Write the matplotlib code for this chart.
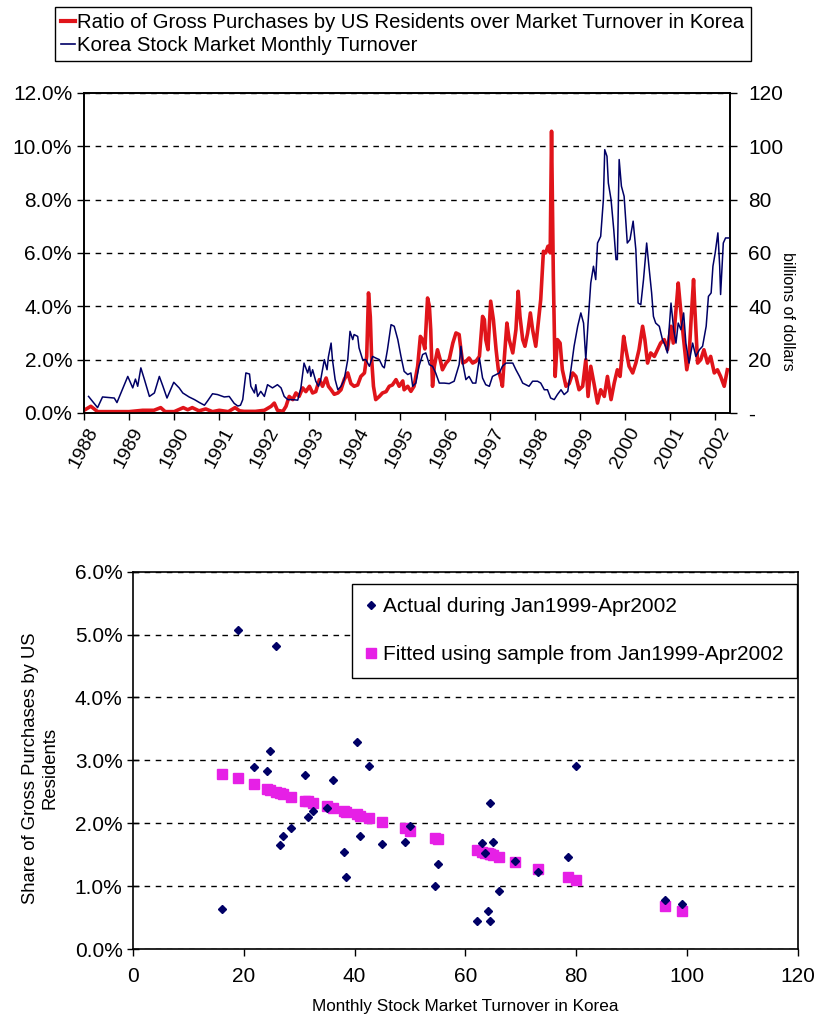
import numpy as np
import matplotlib.pyplot as plt
from matplotlib.ticker import FuncFormatter
from matplotlib.lines import Line2D

plt.rcParams['font.family'] = ['Liberation Sans', 'DejaVu Sans']
plt.rcParams['font.size'] = 15

# --- datos: serie mensual (fecha en anos decimales) ---
# razon compras brutas residentes EEUU / volumen mercado (%)
ratio_t = [1988.00, 1988.15, 1988.30, 1988.50, 1988.80, 1989.00, 1989.30, 1989.55, 1989.70, 1989.80,
           1990.00, 1990.20, 1990.30, 1990.40, 1990.55, 1990.70, 1990.85, 1991.00, 1991.20, 1991.35,
           1991.45, 1991.55, 1991.80, 1992.00, 1992.15, 1992.22, 1992.29, 1992.41, 1992.48, 1992.55,
           1992.63, 1992.70, 1992.77, 1992.85, 1992.92, 1993.00, 1993.07, 1993.14, 1993.22, 1993.29,
           1993.37, 1993.42, 1993.48, 1993.55, 1993.63, 1993.70, 1993.77, 1993.85, 1993.92, 1993.99,
           1994.07, 1994.14, 1994.22, 1994.27, 1994.31, 1994.35, 1994.38, 1994.42, 1994.47, 1994.55,
           1994.62, 1994.70, 1994.77, 1994.84, 1994.92, 1994.99, 1995.07, 1995.10, 1995.18, 1995.25,
           1995.32, 1995.40, 1995.46, 1995.51, 1995.56, 1995.62, 1995.66, 1995.69, 1995.73, 1995.77,
           1995.84, 1995.90, 1995.95, 1996.03, 1996.10, 1996.18, 1996.25, 1996.32, 1996.36, 1996.40,
           1996.47, 1996.54, 1996.62, 1996.69, 1996.77, 1996.84, 1996.88, 1996.91, 1996.96, 1997.02,
           1997.08, 1997.14, 1997.19, 1997.25, 1997.28, 1997.32, 1997.38, 1997.43, 1997.51, 1997.58,
           1997.63, 1997.67, 1997.73, 1997.78, 1997.84, 1997.90, 1997.95, 1998.02, 1998.13, 1998.19,
           1998.24, 1998.29, 1998.34, 1998.37, 1998.41, 1998.45, 1998.50, 1998.56, 1998.61, 1998.69,
           1998.76, 1998.84, 1998.91, 1998.98, 1999.06, 1999.13, 1999.18, 1999.24, 1999.31, 1999.39,
           1999.46, 1999.54, 1999.61, 1999.69, 1999.76, 1999.83, 1999.89, 1999.97, 2000.02, 2000.09,
           2000.17, 2000.24, 2000.31, 2000.39, 2000.44, 2000.50, 2000.57, 2000.65, 2000.72, 2000.79,
           2000.87, 2000.94, 2001.02, 2001.07, 2001.13, 2001.18, 2001.22, 2001.27, 2001.33, 2001.37,
           2001.42, 2001.47, 2001.52, 2001.55, 2001.61, 2001.68, 2001.75, 2001.83, 2001.90, 2001.98,
           2002.05, 2002.12, 2002.20, 2002.27]
ratio_v = [0.10, 0.25, 0.05, 0.05, 0.05, 0.05, 0.10, 0.10, 0.20, 0.05,
           0.05, 0.20, 0.12, 0.20, 0.08, 0.15, 0.05, 0.10, 0.05, 0.20,
           0.08, 0.06, 0.06, 0.10, 0.25, 0.37, 0.10, 0.06, 0.25, 0.62,
           0.50, 0.75, 0.62, 0.94, 0.80, 1.00, 0.75, 0.80, 1.25, 1.00,
           1.31, 1.00, 0.87, 0.70, 0.75, 0.87, 1.25, 1.50, 1.10, 1.00,
           1.05, 1.37, 1.50, 2.12, 4.50, 3.60, 2.00, 1.00, 0.50, 0.62,
           0.75, 0.80, 1.00, 1.05, 1.25, 1.00, 1.20, 0.87, 1.00, 0.81,
           1.00, 1.75, 2.87, 2.75, 2.40, 4.31, 4.00, 3.12, 1.00, 1.75,
           2.37, 2.00, 1.62, 1.87, 2.00, 2.62, 3.00, 2.94, 2.37, 1.87,
           1.93, 2.06, 1.87, 1.93, 2.12, 3.62, 3.50, 2.75, 2.37, 4.19,
           3.50, 2.37, 1.62, 1.25, 1.00, 2.00, 3.37, 2.75, 2.25, 3.12,
           4.56, 3.62, 2.75, 2.50, 3.00, 3.75, 3.12, 2.50, 4.25, 6.06,
           6.00, 6.25, 6.00, 10.56, 5.12, 1.37, 2.75, 2.62, 1.62, 1.00,
           1.10, 1.50, 1.37, 0.87, 1.00, 2.00, 0.62, 1.75, 1.12, 0.37,
           0.87, 0.62, 1.37, 0.50, 1.12, 1.62, 1.37, 2.87, 2.37, 1.75,
           1.50, 1.87, 2.37, 3.25, 2.75, 1.87, 2.25, 2.12, 2.37, 2.62,
           2.75, 2.37, 3.25, 2.62, 3.87, 4.87, 4.12, 3.25, 2.25, 1.62,
           2.12, 3.62, 5.00, 3.87, 1.87, 2.00, 2.37, 1.87, 2.12, 1.50,
           1.62, 1.37, 1.00, 1.62]

# volumen mensual del mercado de Corea (miles de millones USD)
turnover_t = [1988.10, 1988.30, 1988.41, 1988.67, 1988.73, 1988.97, 1989.08, 1989.14, 1989.19, 1989.26,
              1989.34, 1989.45, 1989.56, 1989.67, 1989.75, 1989.84, 1989.99, 1990.11, 1990.19, 1990.33,
              1990.45, 1990.56, 1990.67, 1990.74, 1990.85, 1990.96, 1991.11, 1991.22, 1991.33, 1991.41,
              1991.47, 1991.52, 1991.59, 1991.67, 1991.70, 1991.78, 1991.81, 1991.85, 1991.92, 1992.00,
              1992.07, 1992.18, 1992.29, 1992.37, 1992.44, 1992.52, 1992.63, 1992.74, 1992.81, 1992.88,
              1992.96, 1993.00, 1993.03, 1993.07, 1993.14, 1993.20, 1993.25, 1993.33, 1993.39, 1993.42,
              1993.48, 1993.51, 1993.57, 1993.63, 1993.70, 1993.77, 1993.85, 1993.90, 1993.96, 1993.99,
              1994.07, 1994.10, 1994.18, 1994.25, 1994.33, 1994.40, 1994.47, 1994.55, 1994.62, 1994.66,
              1994.73, 1994.81, 1994.88, 1994.96, 1995.03, 1995.10, 1995.18, 1995.25, 1995.29, 1995.36,
              1995.43, 1995.51, 1995.58, 1995.66, 1995.73, 1995.80, 1995.88, 1995.99, 1996.10, 1996.21,
              1996.32, 1996.36, 1996.40, 1996.47, 1996.54, 1996.62, 1996.69, 1996.77, 1996.84, 1996.91,
              1996.99, 1997.06, 1997.14, 1997.21, 1997.28, 1997.36, 1997.43, 1997.51, 1997.58, 1997.66,
              1997.73, 1997.80, 1997.87, 1997.95, 1998.06, 1998.13, 1998.21, 1998.28, 1998.35, 1998.43,
              1998.50, 1998.58, 1998.65, 1998.73, 1998.80, 1998.87, 1998.95, 1999.02, 1999.08, 1999.13,
              1999.18, 1999.24, 1999.30, 1999.35, 1999.39, 1999.46, 1999.52, 1999.55, 1999.60, 1999.63,
              1999.69, 1999.75, 1999.80, 1999.83, 1999.87, 1999.92, 1999.98, 2000.05, 2000.11, 2000.18,
              2000.24, 2000.29, 2000.35, 2000.41, 2000.48, 2000.53, 2000.59, 2000.63, 2000.68, 2000.76,
              2000.83, 2000.90, 2000.94, 2001.02, 2001.08, 2001.13, 2001.18, 2001.24, 2001.30, 2001.35,
              2001.42, 2001.50, 2001.57, 2001.65, 2001.72, 2001.80, 2001.85, 2001.91, 2001.95, 2002.00,
              2002.06, 2002.10, 2002.12, 2002.18, 2002.23, 2002.30]
turnover_v = [6.2, 2.0, 6.0, 5.6, 3.9, 13.7, 9.4, 12.7, 10.0, 16.9,
              12.5, 6.2, 7.5, 13.7, 10.0, 5.6, 11.5, 9.4, 7.5, 6.0,
              5.0, 3.9, 2.9, 4.5, 7.2, 6.9, 6.0, 6.2, 3.6, 2.6,
              2.9, 5.0, 15.0, 14.6, 10.0, 7.5, 10.6, 6.2, 8.1, 6.2,
              10.6, 9.4, 10.6, 9.4, 6.2, 5.0, 5.0, 4.8, 9.4, 18.7,
              15.0, 17.5, 13.7, 16.2, 11.9, 10.0, 12.5, 20.0, 16.2, 21.0,
              26.2, 20.0, 12.5, 8.7, 10.0, 12.5, 20.0, 30.6, 27.5, 29.4,
              28.7, 24.4, 20.0, 20.0, 17.5, 21.2, 20.6, 20.0, 17.5, 16.9,
              23.7, 33.1, 32.5, 27.5, 21.2, 15.6, 14.4, 15.0, 10.0, 11.2,
              17.5, 21.9, 22.5, 18.1, 17.5, 15.0, 11.2, 11.2, 11.0, 11.9,
              18.1, 25.0, 18.7, 12.5, 13.7, 11.2, 11.2, 20.6, 13.1, 10.6,
              10.0, 13.7, 14.4, 15.0, 17.5, 18.7, 18.7, 18.7, 16.2, 13.7,
              11.2, 10.6, 10.0, 11.9, 11.9, 11.2, 8.7, 8.7, 5.6, 5.0,
              6.9, 8.7, 6.9, 8.1, 16.2, 25.0, 32.5, 37.5, 33.7, 20.0,
              33.7, 48.7, 55.0, 50.0, 63.7, 66.2, 80.0, 98.7, 96.2, 86.2,
              80.0, 68.7, 57.5, 57.5, 95.0, 85.0, 81.2, 63.7, 65.0, 71.9,
              61.2, 41.2, 40.6, 50.0, 63.7, 55.0, 45.0, 36.2, 33.7, 32.5,
              27.5, 25.0, 22.5, 41.2, 31.2, 26.2, 33.7, 31.2, 37.5, 26.2,
              18.7, 26.2, 21.2, 23.7, 25.0, 32.5, 43.7, 45.0, 55.0, 60.0,
              67.5, 55.0, 44.4, 63.7, 65.6, 65.6]

years = list(range(1988, 2003))

# Ene1999-Abr2002: volumen mensual vs participacion de compras EEUU
scatter_x = [16.0, 19.0, 21.8, 24.2, 24.8, 25.8, 26.5, 27.0, 28.5, 31.0,
             31.5, 32.5, 35.0, 36.1, 38.0, 38.5, 40.5, 41.0, 42.6, 45.0,
             49.0, 50.0, 54.5, 55.0, 62.0, 63.0, 63.5, 64.0, 64.5, 64.5,
             65.0, 66.0, 69.0, 73.0, 78.5, 80.0, 96.0, 99.0]
actual_y = [0.63, 5.07, 2.90, 2.83, 3.15, 4.82, 1.65, 1.80, 1.92, 2.77,
            2.10, 2.20, 2.25, 2.69, 1.55, 1.15, 3.29, 1.80, 2.91, 1.67,
            1.70, 1.95, 1.00, 1.35, 0.45, 1.68, 1.52, 0.60, 0.45, 2.33,
            1.70, 0.92, 1.40, 1.22, 1.47, 2.91, 0.78, 0.72]
fitted_y = [2.78, 2.72, 2.62, 2.55, 2.53, 2.50, 2.48, 2.46, 2.42, 2.36,
            2.35, 2.32, 2.27, 2.24, 2.19, 2.18, 2.14, 2.12, 2.08, 2.02,
            1.92, 1.88, 1.76, 1.75, 1.57, 1.55, 1.53, 1.52, 1.51, 1.51,
            1.49, 1.47, 1.39, 1.28, 1.14, 1.10, 0.68, 0.60]

rojo = '#e0141a'
azul = '#000066'
magenta = '#e620e6'
pct = FuncFormatter(lambda v, p: '%.1f%%' % (v * 100))
grid_kw = dict(color='black', linestyle=(0, (4, 4)), linewidth=1.0)

fig = plt.figure(figsize=(8.24, 10.26), dpi=100)

# ---------- grafico superior ----------
ax1 = fig.add_axes([0.102, 0.5975, 0.784, 0.312])
ax1.plot(ratio_t, np.array(ratio_v) / 100, color=rojo, lw=2.6, zorder=3)
ax1.set_xlim(1988, 2002.33)
ax1.set_ylim(0, 0.12)
ax1.set_yticks(np.arange(0, 0.121, 0.02))
ax1.yaxis.set_major_formatter(pct)
ax1.set_xticks(years)
ax1.set_xticklabels([str(y) for y in years], rotation=62, fontsize=14)
ax1.yaxis.grid(True, **grid_kw)
ax1.tick_params(direction='out', length=5, width=1, colors='black')

ax2 = ax1.twinx()
ax2.plot(turnover_t, turnover_v, color=azul, lw=1.1, zorder=3)
ax2.set_ylim(0, 120)
ax2.set_yticks(range(0, 121, 20))
ax2.yaxis.set_major_formatter(FuncFormatter(lambda v, p: '-' if v == 0 else '%d' % v))
ax2.tick_params(direction='out', length=5, width=1, pad=8)
ax2.set_ylabel('billions of dollars', rotation=270, fontsize=11.5)
ax2.yaxis.set_label_coords(1.10, 0.316)
for a in (ax1, ax2):
    for s in a.spines.values():
        s.set_color('black')
        s.set_linewidth(1.2)

leyenda = [Line2D([], [], color=rojo, lw=3), Line2D([], [], color=azul, lw=1.2)]
fig.legend(leyenda,
           ['Ratio of Gross Purchases by US Residents over Market Turnover in Korea',
            'Korea Stock Market Monthly Turnover'],
           loc='upper left', bbox_to_anchor=(55 / 824, 1 - 7 / 1026), borderaxespad=0,
           frameon=True, fancybox=False, edgecolor='black', framealpha=1, fontsize=14.6,
           handlelength=0.7, handletextpad=0.1, borderpad=0.3, labelspacing=0.2)

# ---------- grafico inferior ----------
ax3 = fig.add_axes([0.1614, 0.075, 0.807, 0.3678])
ax3.plot(scatter_x, np.array(actual_y) / 100, linestyle='none', marker='D', ms=4.5,
         color=azul, label='Actual during Jan1999-Apr2002', zorder=3)
ax3.plot(scatter_x, np.array(fitted_y) / 100, linestyle='none', marker='s', ms=7,
         color=magenta, label='Fitted using sample from Jan1999-Apr2002', zorder=2)
ax3.set_xlim(0, 120)
ax3.set_ylim(0, 0.06)
ax3.set_xticks(range(0, 121, 20))
ax3.set_yticks(np.arange(0, 0.061, 0.01))
ax3.yaxis.set_major_formatter(pct)
ax3.yaxis.grid(True, **grid_kw)
ax3.tick_params(axis='y', direction='inout', length=8, width=1)
ax3.tick_params(axis='x', direction='out', length=5, width=1, pad=8)
ax3.set_xlabel('Monthly Stock Market Turnover in Korea', labelpad=9, fontsize=12.3)
ax3.set_ylabel('Share of Gross Purchases by US\nResidents', fontsize=13.3)
ax3.yaxis.set_label_coords(-0.112, 0.48)
for s in ax3.spines.values():
    s.set_color('black')
    s.set_linewidth(1.2)
ax3.legend(loc='upper right', bbox_to_anchor=(0.998, 0.968), borderaxespad=0,
           frameon=True, fancybox=False, edgecolor='black', framealpha=1,
           handlelength=0.5, handletextpad=0.3, borderpad=0.65, labelspacing=1.4,
           markerscale=1.0)

fig.savefig('out.png', dpi=100)
